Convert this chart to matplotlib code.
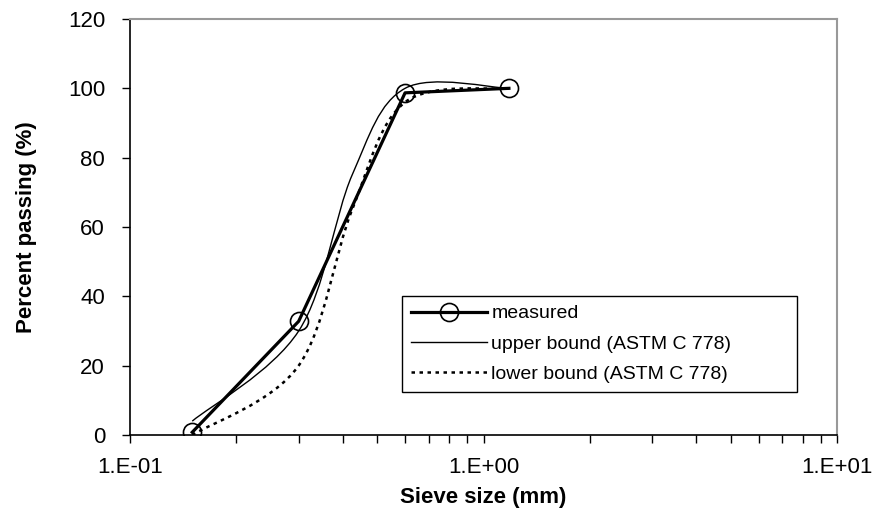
import numpy as np
import matplotlib
matplotlib.use("Agg")
import matplotlib.pyplot as plt
from matplotlib.path import Path
from matplotlib.patches import PathPatch
from matplotlib.lines import Line2D
from matplotlib.ticker import FixedLocator, FuncFormatter, LogLocator, NullFormatter

plt.rcParams['font.family'] = ['Liberation Sans', 'DejaVu Sans']

# sieve sizes (mm) and percent passing
measured_size = [0.15, 0.3, 0.6, 1.18]
measured_pass = [0.8, 32.8, 98.7, 100.0]

bound_size = [0.15, 0.3, 0.425, 0.6, 1.18]
upper_pass = [4.0, 30.0, 75.0, 100.0, 100.0]
lower_pass = [0.0, 20.0, 65.0, 96.0, 100.0]


def smooth_path(xs, ys, t=1.0 / 6.0):
    # spreadsheet-style smoothed line: cubic Bezier segments, control
    # points taken in log-x space, then mapped back to data units
    lx = np.log10(xs)
    y = np.asarray(ys, dtype=float)
    n = len(lx)
    verts = [(xs[0], y[0])]
    codes = [Path.MOVETO]
    for i in range(n - 1):
        p = max(i - 1, 0)
        q = min(i + 2, n - 1)
        c1 = (lx[i] + (lx[i + 1] - lx[p]) * t, y[i] + (y[i + 1] - y[p]) * t)
        c2 = (lx[i + 1] - (lx[q] - lx[i]) * t, y[i + 1] - (y[q] - y[i]) * t)
        verts += [(10 ** c1[0], c1[1]), (10 ** c2[0], c2[1]), (xs[i + 1], y[i + 1])]
        codes += [Path.CURVE4] * 3
    return Path(verts, codes)


fig = plt.figure(figsize=(8.83, 5.31), dpi=100)
ax = fig.add_axes([130 / 883, 1 - 435 / 531, 707 / 883, 416 / 531])
ax.set_xscale('log')
ax.set_xlim(0.1, 10)
ax.set_ylim(0, 120)

dotted = (0, (1.4, 1.8))
ax.add_patch(PathPatch(smooth_path(bound_size, upper_pass), fill=False,
                       edgecolor='black', lw=1.0, zorder=2))
ax.add_patch(PathPatch(smooth_path(bound_size, lower_pass), fill=False,
                       edgecolor='black', lw=1.8, linestyle=dotted, zorder=2))
ax.plot(measured_size, measured_pass, color='black', lw=2.3, marker='o',
        markersize=13, markerfacecolor='none', markeredgewidth=1.2, zorder=3)

# axes styling
for side in ['top', 'right']:
    ax.spines[side].set_color('#999999')
    ax.spines[side].set_linewidth(1.5)
for side in ['left', 'bottom']:
    ax.spines[side].set_color('black')
    ax.spines[side].set_linewidth(1.2)

ax.yaxis.set_major_locator(FixedLocator([0, 20, 40, 60, 80, 100, 120]))
ax.xaxis.set_major_locator(FixedLocator([0.1, 1, 10]))
ax.xaxis.set_major_formatter(FuncFormatter(
    lambda v, pos: {0.1: '1.E-01', 1: '1.E+00', 10: '1.E+01'}.get(round(v, 3), '')))
ax.xaxis.set_minor_locator(LogLocator(base=10, subs=np.arange(2, 10)))
ax.xaxis.set_minor_formatter(NullFormatter())
ax.tick_params(axis='both', which='major', direction='out', length=6,
               width=1.0, labelsize=16)
ax.tick_params(axis='x', which='major', pad=10)
ax.tick_params(axis='y', which='major', pad=12)
ax.tick_params(axis='x', which='minor', direction='out', length=6, width=1.0)
ax.tick_params(axis='y', which='both', right=False)

ax.set_xlabel('Sieve size (mm)', fontsize=16, fontweight='bold', labelpad=6)
ax.set_ylabel('Percent passing (%)', fontsize=16, fontweight='bold', labelpad=22)

handles = [
    Line2D([], [], color='black', lw=2.3, marker='o', markersize=13,
           markerfacecolor='none', markeredgewidth=1.2),
    Line2D([], [], color='black', lw=1.0),
    Line2D([], [], color='black', lw=1.8, linestyle=dotted),
]
labels = ['measured', 'upper bound (ASTM C 778)', 'lower bound (ASTM C 778)']
leg = ax.legend(handles, labels, loc='upper left', mode='expand',
                bbox_to_anchor=((402 - 130) / 707, (435 - 296) / 416,
                                395 / 707, 0),
                fontsize=14, frameon=True, fancybox=False, framealpha=1,
                edgecolor='black', handlelength=3.9, handletextpad=0.25,
                labelspacing=0.66, borderpad=0.45, borderaxespad=0)
leg.get_frame().set_linewidth(1.0)

fig.savefig('out.png', dpi=100)
